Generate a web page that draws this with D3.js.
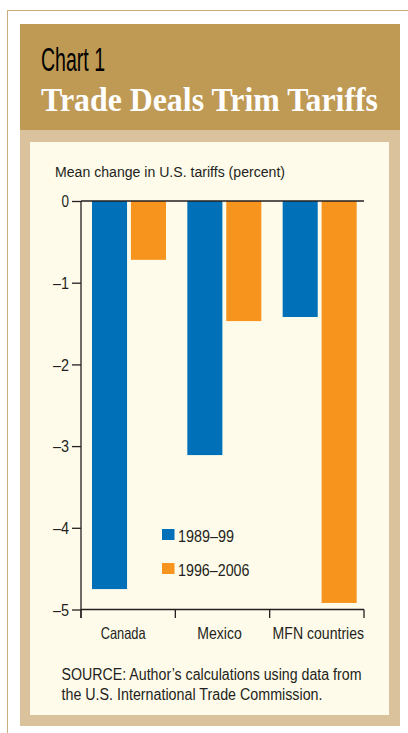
<!DOCTYPE html>
<html>
<head>
<meta charset="utf-8">
<script src="https://cdn.jsdelivr.net/npm/d3@7"></script>
<style>
  body { margin: 0; background: #fff; }
  text { font-family: "Liberation Sans", Arial, sans-serif; fill: #231f20; }
</style>
</head>
<body>
<div id="chart"></div>
<script>
const categories = ['Canada', 'Mexico', 'MFN countries'];
const seriesNames = ['1989–99', '1996–2006'];
const values8999 = [-4.75, -3.11, -1.42];
const values9606 = [-0.72, -1.47, -4.92];
const yTicks = [0, -1, -2, -3, -4, -5];

const width = 408, height = 733;
const colors = ['#0071b9', '#f7941e'];

const svg = d3.select('#chart').append('svg')
  .attr('width', width)
  .attr('height', height);

// frame
svg.append('rect').attr('x', 7.5).attr('y', 10.5).attr('width', 420).attr('height', 740)
  .attr('fill', 'none').attr('stroke', '#c9ad7c').attr('stroke-width', 1);
svg.append('rect').attr('x', 20).attr('y', 24).attr('width', 380).attr('height', 702)
  .attr('fill', '#d9c29c');
svg.append('rect').attr('x', 20).attr('y', 24).attr('width', 380).attr('height', 106)
  .attr('fill', '#bf9a55');
svg.append('rect').attr('x', 30).attr('y', 142).attr('width', 359).attr('height', 573)
  .attr('fill', '#fffbea');

svg.append('text').attr('x', 41).attr('y', 71)
  .attr('textLength', 64).attr('lengthAdjust', 'spacingAndGlyphs')
  .style('font-size', '33px').style('fill', '#000')
  .text('Chart 1');
svg.append('text').attr('x', 41).attr('y', 111)
  .attr('textLength', 337).attr('lengthAdjust', 'spacingAndGlyphs')
  .style('font-family', '"Liberation Serif", "DejaVu Serif", serif')
  .style('font-weight', 'bold').style('font-size', '34px').style('fill', '#fff')
  .text('Trade Deals Trim Tariffs');

// scales
const x0 = d3.scaleBand().domain(categories).range([81, 364]);
const x1 = d3.scaleBand().domain(seriesNames).range([11, 85]).paddingInner(0.1);
const y = d3.scaleLinear().domain([0, -5]).range([201, 609.5]);

const data = categories.map((c, i) => ({
  name: c,
  vals: [values8999[i], values9606[i]]
}));

// bars
const groups = svg.append('g').selectAll('g')
  .data(data).enter().append('g')
  .attr('transform', (d, i) => 'translate(' + (x0(d.name) + i) + ',0)');

groups.selectAll('rect')
  .data(d => d.vals.map((v, i) => ({ key: seriesNames[i], value: v, i: i })))
  .enter().append('rect')
  .attr('x', d => x1(d.key))
  .attr('y', y(0))
  .attr('width', x1.bandwidth())
  .attr('height', d => y(d.value) - y(0))
  .attr('fill', d => colors[d.i]);

// y axis
const yAxis = svg.append('g')
  .attr('transform', 'translate(81,0)')
  .call(d3.axisLeft(y).tickValues(yTicks).tickSize(9).tickPadding(3)
    .tickFormat(d => d === 0 ? '0' : '–' + Math.abs(d)));
yAxis.select('.domain').remove();
yAxis.selectAll('.tick line').attr('stroke', '#231f20').attr('stroke-width', 1.3);
yAxis.selectAll('.tick text')
  .style('font-size', '16px').attr('dy', '0.36em')
  .attr('textLength', d => d === 0 ? 7.5 : 16).attr('lengthAdjust', 'spacingAndGlyphs');

svg.append('line').attr('x1', 81).attr('x2', 81).attr('y1', 201).attr('y2', 618)
  .attr('stroke', '#231f20').attr('stroke-width', 1.3);

// zero line
svg.append('line').attr('x1', 81).attr('x2', 364).attr('y1', y(0)).attr('y2', y(0))
  .attr('stroke', '#231f20').attr('stroke-width', 1.6);

// x axis
svg.append('line').attr('x1', 81).attr('x2', 364).attr('y1', y(-5)).attr('y2', y(-5))
  .attr('stroke', '#231f20').attr('stroke-width', 1.3);
const xTickPos = categories.map(c => x0(c)).concat([x0.range()[1]]);
svg.append('g').selectAll('line')
  .data(xTickPos).enter().append('line')
  .attr('x1', d => d).attr('x2', d => d)
  .attr('y1', y(-5)).attr('y2', y(-5) + 8.5)
  .attr('stroke', '#231f20').attr('stroke-width', 1.3);

const labelShift = [-5, -3, 1.5];
const labelLen = [45, 44.5, 91.5];
svg.append('g').selectAll('text')
  .data(categories).enter().append('text')
  .attr('x', (d, i) => x0(d) + x0.bandwidth() / 2 + labelShift[i])
  .attr('y', 639)
  .attr('text-anchor', 'middle')
  .attr('textLength', (d, i) => labelLen[i]).attr('lengthAdjust', 'spacingAndGlyphs')
  .style('font-size', '16.5px')
  .text(d => d);

// axis title
svg.append('text').attr('x', 55).attr('y', 176.5)
  .attr('textLength', 230).attr('lengthAdjust', 'spacingAndGlyphs')
  .style('font-size', '15.5px')
  .text('Mean change in U.S. tariffs (percent)');

// legend
const legendLen = [56, 71.5];
const legend = svg.append('g').selectAll('g')
  .data(seriesNames).enter().append('g')
  .attr('transform', (d, i) => 'translate(162,' + (529 + i * 34) + ')');
legend.append('rect').attr('width', 12.5).attr('height', 11)
  .attr('fill', (d, i) => colors[i]);
legend.append('text').attr('x', 16).attr('y', 12.5)
  .attr('textLength', (d, i) => legendLen[i]).attr('lengthAdjust', 'spacingAndGlyphs')
  .style('font-size', '16px')
  .text(d => d);

// source
const source = ['SOURCE: Author’s calculations using data from',
  'the U.S. International Trade Commission.'];
const sourceLen = [300, 261];
svg.append('g').selectAll('text')
  .data(source).enter().append('text')
  .attr('x', 61.5)
  .attr('y', (d, i) => 679.5 + i * 20.7)
  .attr('textLength', (d, i) => sourceLen[i]).attr('lengthAdjust', 'spacingAndGlyphs')
  .style('font-size', '16px')
  .text(d => d);
</script>
</body>
</html>
